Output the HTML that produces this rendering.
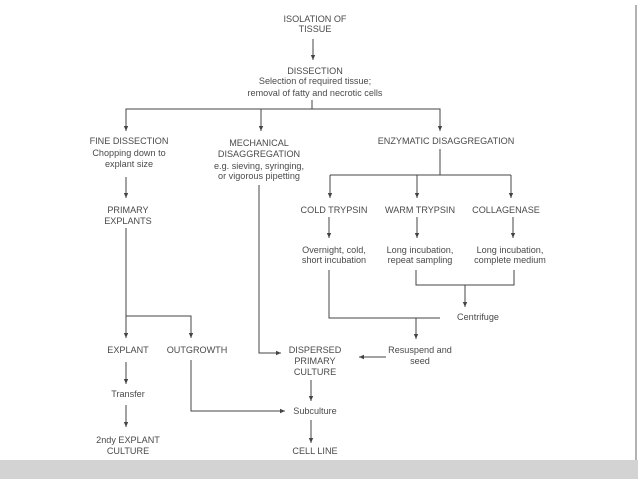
<!DOCTYPE html>
<html><head><meta charset="utf-8"><style>
html,body{margin:0;padding:0;background:#fff;}
svg{display:block;}
text{font-family:"Liberation Sans",sans-serif;font-size:9.1px;fill:#4a4a4a;text-anchor:middle;}
line,polyline{stroke:#444;stroke-width:1;fill:none;}
</style></head><body>
<svg width="638" height="479" viewBox="0 0 638 479" xmlns="http://www.w3.org/2000/svg">
<defs><marker id="a" markerWidth="6" markerHeight="6" refX="5" refY="3" orient="auto" markerUnits="userSpaceOnUse"><path d="M0,0.8 L5,3 L0,5.2z" fill="#444"/></marker></defs>
<rect x="0" y="460" width="638" height="19" fill="#d3d3d3"/>
<line x1="636" y1="5" x2="636" y2="460" style="stroke:#999;stroke-width:1.5"/>

<text x="315" y="22">ISOLATION OF</text>
<text x="315" y="32">TISSUE</text>
<line x1="313" y1="39" x2="313" y2="60" marker-end="url(#a)"/>
<text x="315" y="74">DISSECTION</text>
<text x="315" y="84">Selection of required tissue;</text>
<text x="315" y="96">removal of fatty and necrotic cells</text>
<line x1="312" y1="100" x2="312" y2="109"/>
<polyline points="126,131 126,109 440,109 440,131" marker-end="url(#a)"/>
<line x1="126" y1="109" x2="126" y2="131" marker-end="url(#a)"/>
<line x1="261" y1="109" x2="261" y2="131" marker-end="url(#a)"/>

<text x="129" y="144">FINE DISSECTION</text>
<text x="129" y="156">Chopping down to</text>
<text x="129" y="167">explant size</text>
<text x="259" y="146">MECHANICAL</text>
<text x="259" y="157">DISAGGREGATION</text>
<text x="259" y="169">e.g. sieving, syringing,</text>
<text x="259" y="179">or vigorous pipetting</text>
<text x="446" y="144">ENZYMATIC DISAGGREGATION</text>

<line x1="126" y1="177" x2="126" y2="198" marker-end="url(#a)"/>
<text x="128" y="213">PRIMARY</text>
<text x="128" y="224">EXPLANTS</text>

<line x1="440" y1="149" x2="440" y2="175"/>
<line x1="330" y1="175" x2="511" y2="175"/>
<line x1="330" y1="175" x2="330" y2="198" marker-end="url(#a)"/>
<line x1="417" y1="175" x2="417" y2="198" marker-end="url(#a)"/>
<line x1="511" y1="175" x2="511" y2="198" marker-end="url(#a)"/>
<text x="334" y="213">COLD TRYPSIN</text>
<text x="420" y="213">WARM TRYPSIN</text>
<text x="506" y="213">COLLAGENASE</text>
<line x1="329" y1="217" x2="329" y2="238" marker-end="url(#a)"/>
<line x1="417" y1="217" x2="417" y2="238" marker-end="url(#a)"/>
<line x1="513" y1="217" x2="513" y2="238" marker-end="url(#a)"/>
<text x="334" y="253">Overnight, cold,</text>
<text x="334" y="263">short incubation</text>
<text x="420" y="253">Long incubation,</text>
<text x="420" y="263">repeat sampling</text>
<text x="510" y="253">Long incubation,</text>
<text x="510" y="263">complete medium</text>

<polyline points="416,270 416,285 514,285 514,270"/>
<line x1="465" y1="285" x2="465" y2="307" marker-end="url(#a)"/>
<polyline points="329,270 329,318 440,318"/>
<text x="478" y="320">Centrifuge</text>
<line x1="416" y1="318" x2="416" y2="339" marker-end="url(#a)"/>
<text x="420" y="353">Resuspend and</text>
<text x="420" y="364">seed</text>
<line x1="386" y1="357" x2="359" y2="357" marker-end="url(#a)"/>

<polyline points="259,185 259,353 281,353" marker-end="url(#a)"/>
<text x="315" y="353">DISPERSED</text>
<text x="315" y="364">PRIMARY</text>
<text x="315" y="375">CULTURE</text>
<line x1="311" y1="380" x2="311" y2="401" marker-end="url(#a)"/>
<text x="315" y="414">Subculture</text>
<line x1="311" y1="420" x2="311" y2="443" marker-end="url(#a)"/>
<text x="315" y="454">CELL LINE</text>

<line x1="126" y1="228" x2="126" y2="338" marker-end="url(#a)"/>
<polyline points="126,316 191,316 191,338" marker-end="url(#a)"/>
<text x="128" y="353">EXPLANT</text>
<text x="197" y="353">OUTGROWTH</text>
<polyline points="191,360 191,411 285,411" marker-end="url(#a)"/>
<line x1="126" y1="362" x2="126" y2="384" marker-end="url(#a)"/>
<text x="128" y="397">Transfer</text>
<line x1="126" y1="405" x2="126" y2="427" marker-end="url(#a)"/>
<text x="128" y="443">2ndy EXPLANT</text>
<text x="128" y="454">CULTURE</text>
</svg>
</body></html>
